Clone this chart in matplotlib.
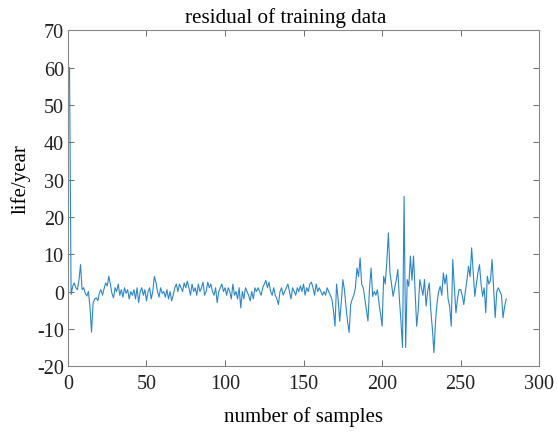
import numpy as np
import matplotlib
matplotlib.use('Agg')
import matplotlib.pyplot as plt

# residual values, sample 1..279
res_1_40 = [60, -0.8, 1.4, 2.3, 1, 0.5, 3, 7.2, 0.5, 1, -0.5, -1.2, 0, -4, -10.9,
            -3, -2, -1.7, -2.5, -0.4, 0.5, -1, 0.8, 2.3, 1.5, 4.1, 2, -0.5, -1.7, 1,
            0, 2, -1, 0.5, -1.5, 1, -0.5, 0.5, -2, 0]
res_41_80 = [-1, 0.5, -2, 1, -3, 0, 1, -1, 0.5, -2.5, 0, 1, -2, 0, 4, 2.5, 0, -1.5, 1, -0.5,
             0, -1.5, 0.5, -2, 0, -2.5, -1, 1, 2, 0, 2, 1, 0, 2.3, 1, 2.8, 1, -1, 2, 0]
res_81_120 = [1, -1, 2, 0, 1, 2.5, -1, 0, 2.5, 1, 2, 0, -1, 1, -3, 0, 1, 2, 0, 1,
              -1, 1, 0, -2, 2, -1, 0, -2, 1, -4.4, 0, -2, 1, 0, -1, -2.5, 0, -2, 1, 0]
res_121_160 = [1, 0, -1, 1, 2, 3, 1, 2.5, 0, -1, 1, -1, -2, -3.5, 0, 1, -1, 0, 1, 2,
               0, -2, 1, 0, -1, 1, 0, 1.5, 0, 2, -1, 1, 0, 2, 2.5, 1, -1, 2, 0, 1]
res_161_200 = [0, -1, 0, -1, 1, 0, -1, -2, -5, -9.3, 2, -2, -8, -3, 3.2, 0.5, -4, -8, -11, -3.5,
               -2, -1, 1, 6.3, 4, 9, 1.9, 1, -2, -5, -7.9, 1, 6.3, -1.3, 0, -1, 0.5, -3, -6, -9.3]
res_201_240 = [4.1, 2, 8, 15.7, 5, 2, -1.3, 1, 3, 5.9, -2, -8, -15, 25.5, -15, 3.2, 1.4, 9.5, 3, 9.5,
               0, -9.3, -5, 3.2, 1, -1, 3.2, -3.9, 0, 2.3, -5, -10, -16.4, -8, -3, 0, 1.4, -1, 5, 2]
res_241_279 = [4.5, -2, -4, -9.3, 8.6, 1, -5.7, -2, 0.5, 0.5, -1, -3.5, 0, 3, 6.8, 4, 11.7, 5, -1.3, 2,
               5, 7.2, 2, -1.3, 1, -5.7, 4.1, 2, 3, 8.6, 1, -7, 0, 1, 0, -1, -7, -4, -2]

residual = (res_1_40 + res_41_80 + res_81_120 + res_121_160
            + res_161_200 + res_201_240 + res_241_279)
samples = np.arange(1, len(residual) + 1)

xticks = [0, 50, 100, 150, 200, 250, 300]
yticks = [-20, -10, 0, 10, 20, 30, 40, 50, 60, 70]

plt.rcParams['font.family'] = ['Liberation Serif', 'DejaVu Serif']
plt.rcParams['font.size'] = 14.5
plt.rcParams['axes.unicode_minus'] = False

fig = plt.figure(figsize=(5.57, 4.35), dpi=100)
ax = fig.add_axes([0.122, 0.156, 0.846, 0.772])
ax.plot(samples, residual, color='#2a86d0', linewidth=0.8)

ax.set_xlim(0, 300)
ax.set_ylim(-20, 70)
ax.set_xticks(xticks)
ax.set_yticks(yticks)
ax.tick_params(direction='in', top=True, right=True, length=4, width=0.6,
               color='#555555', labelcolor='#222222')
ax.tick_params(axis='x', pad=6)
ax.tick_params(axis='y', pad=3)
for s in ax.spines.values():
    s.set_color('#888888')
    s.set_linewidth(0.8)

# title sits a little left of centre in the original
ax.set_title('residual of training data', fontsize=15.2, x=0.463, pad=6)
ax.set_xlabel('number of samples', fontsize=15, labelpad=9)
ax.set_ylabel('life/year', fontsize=15)
ax.yaxis.set_label_coords(-0.08, 0.56)

fig.savefig('out.png', dpi=100)
